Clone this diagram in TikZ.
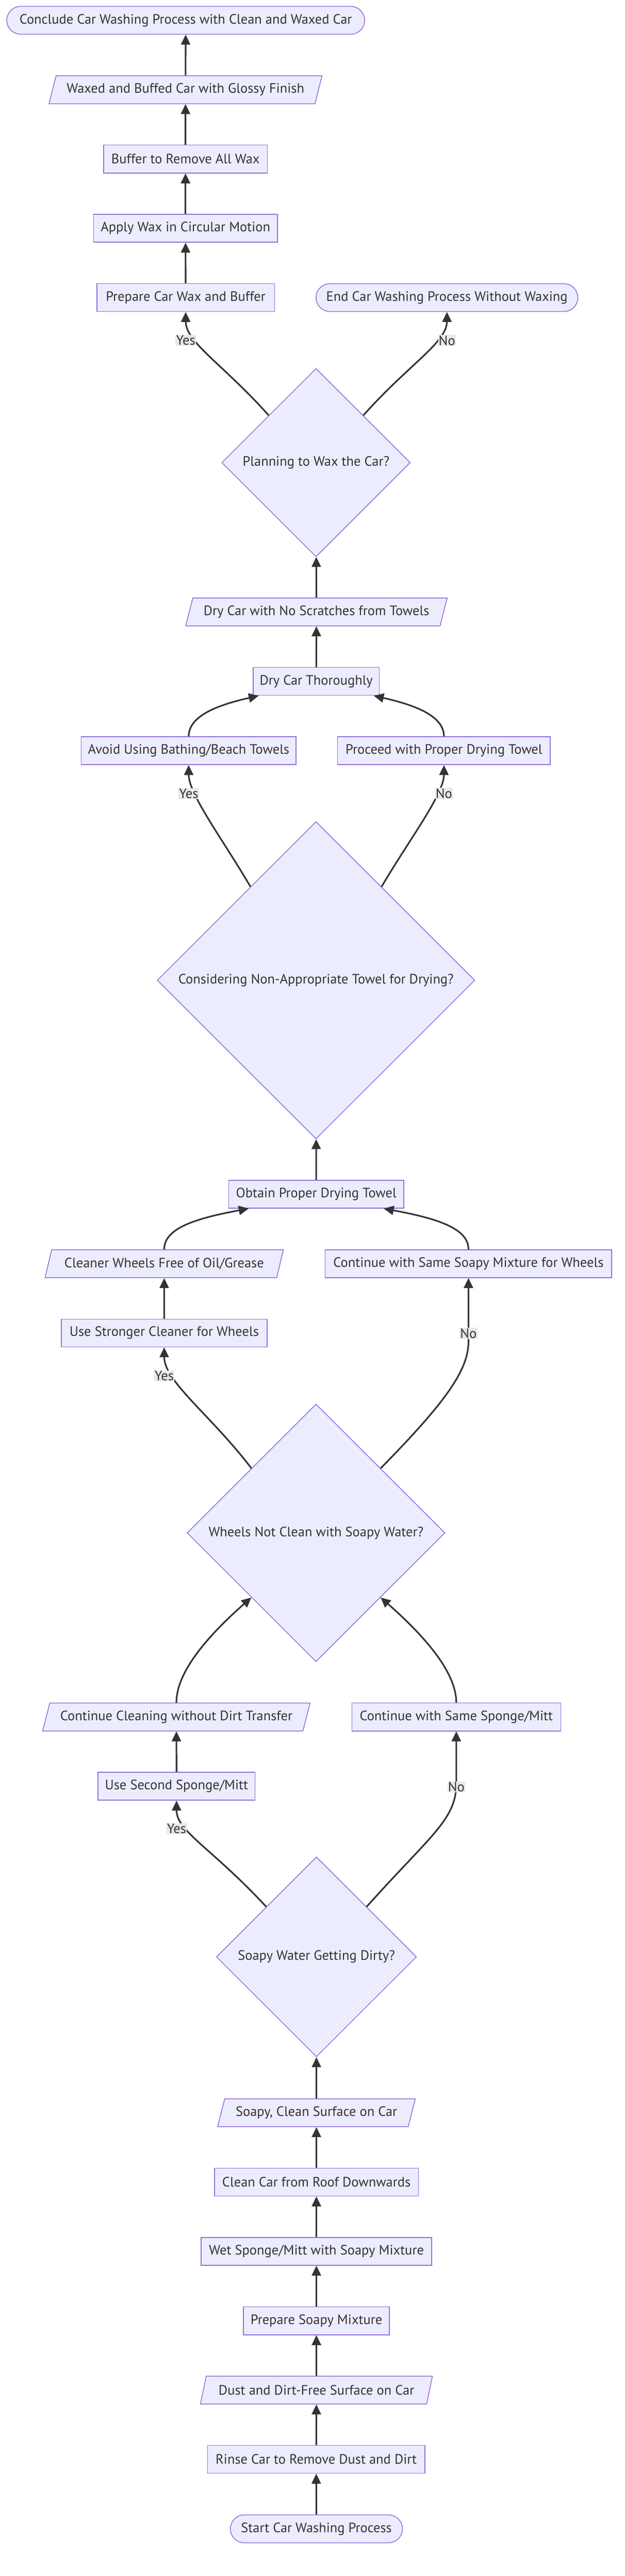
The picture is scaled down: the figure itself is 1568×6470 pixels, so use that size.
\documentclass[tikz,border=0pt]{standalone}
\usepackage{fontspec}
\setmainfont{PT Sans}
\usetikzlibrary{shapes.geometric,arrows.meta}
\definecolor{boxfill}{HTML}{ECECFF}
\definecolor{boxline}{HTML}{9370DB}
\definecolor{ink}{HTML}{333333}
\definecolor{tagfill}{HTML}{E8E8E8}

\begin{document}
\begin{tikzpicture}[x=0.02cm,y=-0.02cm,
	base/.style={draw=boxline,fill=boxfill,line width=0.04cm,text=ink,font=\fontsize{19.5}{23}\selectfont,minimum height=1.4cm,inner sep=0.05cm},
	proc/.style={base,rectangle,minimum width=#1*0.02cm},
	term/.style={base,rectangle,rounded corners=0.7cm,minimum width=#1*0.02cm},
	io/.style={base,trapezium,trapezium left angle=64,trapezium right angle=116,trapezium stretches body,minimum width=#1*0.02cm},
	choice/.style={base,diamond,minimum width=#1*0.02cm,minimum height=#1*0.02cm,inner sep=0pt},
	flow/.style={draw=ink,line width=0.08cm,-{Triangle[length=0.5cm,width=0.46cm]}},
	tag/.style={fill=tagfill,text=ink,font=\fontsize{19.5}{23}\selectfont,inner sep=0.03cm}]
				\useasboundingbox (0,0) rectangle (1568,6470);
				% waxing
				\node[term=898] (conclude) at (466,51) {Conclude Car Washing Process with Clean and Waxed Car};
				\node[io=685] (waxed) at (465.5,225.5) {Waxed and Buffed Car with Glossy Finish};
				\node[proc=411] (buffer) at (465.5,399.5) {Buffer to Remove All Wax};
				\node[proc=461] (apply) at (465.5,573.5) {Apply Wax in Circular Motion};
				\node[proc=446] (prepwax) at (466,747.5) {Prepare Car Wax and Buffer};
				\node[term=657] (nowax) at (1121.5,747.5) {End Car Washing Process Without Waxing};
				\node[choice=473] (wax) at (793,1162) {\makebox[0pt]{Planning to Wax the Car?}};
				% drying
				\node[io=656] (nosc) at (794,1537) {Dry Car with No Scratches from Towels};
				\node[proc=317] (drythor) at (793.5,1711.5) {Dry Car Thoroughly};
				\node[proc=539] (avoid) at (473.5,1885.5) {Avoid Using Bathing/Beach Towels};
				\node[proc=534] (proceed) at (1114,1885.5) {Proceed with Proper Drying Towel};
				\node[choice=797] (towel) at (793,2462) {\makebox[0pt]{Considering Non-Appropriate Towel for Drying?}};
				\node[proc=439] (obtain) at (793.5,2999.5) {Obtain Proper Drying Towel};
				% wheels
				\node[io=598] (cleanerw) at (412,3174) {Cleaner Wheels Free of Oil/Grease};
				\node[proc=719] (samemix) at (1175.5,3174) {Continue with Same Soapy Mixture for Wheels};
				\node[proc=516] (stronger) at (412,3348) {Use Stronger Cleaner for Wheels};
				\node[choice=647] (wheels) at (793,3850) {\makebox[0pt]{Wheels Not Clean with Soapy Water?}};
				% washing
				\node[io=671] (contclean) at (442.5,4312.5) {Continue Cleaning without Dirt Transfer};
				\node[proc=524] (samesponge) at (1145,4312.5) {Continue with Same Sponge/Mitt};
				\node[proc=394] (second) at (443,4486.5) {Use Second Sponge/Mitt};
				\node[choice=502] (dirty) at (794,4915) {\makebox[0pt]{Soapy Water Getting Dirty?}};
				\node[io=496] (soapsurf) at (794,5306.5) {Soapy, Clean Surface on Car};
				\node[proc=512] (roof) at (794,5480.5) {Clean Car from Roof Downwards};
				\node[proc=578] (wet) at (794,5654.5) {Wet Sponge/Mitt with Soapy Mixture};
				\node[proc=366] (prepsoap) at (794,5829) {Prepare Soapy Mixture};
				\node[io=582] (dust) at (794,6003) {Dust and Dirt-Free Surface on Car};
				\node[proc=545] (rinse) at (793.5,6177) {Rinse Car to Remove Dust and Dirt};
				\node[term=432] (start) at (794,6351.5) {Start Car Washing Process};

				\draw[flow] (start) -- (rinse);
				\draw[flow] (rinse) -- (dust);
				\draw[flow] (dust) -- (prepsoap);
				\draw[flow] (prepsoap) -- (wet);
				\draw[flow] (wet) -- (roof);
				\draw[flow] (roof) -- (soapsurf);
				\draw[flow] (soapsurf) -- (dirty);
				\draw[flow] (dirty.135) .. controls (530,4640) and (443,4600) .. (second.south);
				\draw[flow] (dirty.45) .. controls (1080,4610) and (1145,4570) .. (1145,4480) -- (samesponge.south);
				\draw[flow] (second) -- (contclean);
				\draw[flow] (contclean.north) .. controls (442.5,4200) and (520,4110) .. (wheels.225);
				\draw[flow] (samesponge.north) .. controls (1145,4200) and (1066,4110) .. (wheels.315);
				\draw[flow] (wheels.135) .. controls (530,3555) and (412,3470) .. (stronger.south);
				\draw[flow] (wheels.45) .. controls (1120,3520) and (1175.5,3440) .. (1175.5,3370) -- (samemix.south);
				\draw[flow] (stronger) -- (cleanerw);
				\draw[flow] (cleanerw.north) .. controls (412,3088) and (480,3062) .. (obtain.192);
				\draw[flow] (samemix.north) .. controls (1175.5,3088) and (1107,3062) .. (obtain.348);
				\draw[flow] (obtain) -- (towel);
				\draw[flow] (towel.125) .. controls (560,2110) and (473.5,1995) .. (avoid.south);
				\draw[flow] (towel.55) .. controls (1026,2110) and (1114,1995) .. (proceed.south);
				\draw[flow] (avoid.north) .. controls (473.5,1800) and (540,1772) .. (drythor.194);
				\draw[flow] (proceed.north) .. controls (1114,1800) and (1047,1772) .. (drythor.346);
				\draw[flow] (drythor) -- (nosc);
				\draw[flow] (nosc) -- (wax);
				\draw[flow] (wax.135) .. controls (560,915) and (466,860) .. (prepwax.south);
				\draw[flow] (wax.45) .. controls (1026,915) and (1121.5,860) .. (nowax.south);
				\draw[flow] (prepwax) -- (apply);
				\draw[flow] (apply) -- (buffer);
				\draw[flow] (buffer) -- (waxed);
				\draw[flow] (waxed) -- (conclude);

				\node[tag] (ywax) at (466,855) {Yes};
				\node[tag] (nwax) at (1121.5,855) {No};
				\node[tag] (ytowel) at (473.5,1993) {Yes};
				\node[tag] (ntowel) at (1114,1993) {No};
				\node[tag] (ywheels) at (412,3456) {Yes};
				\node[tag] (nwheels) at (1175.5,3349) {No};
				\node[tag] (ydirty) at (443,4593) {Yes};
				\node[tag] (ndirty) at (1145,4488) {No};
\end{tikzpicture}
\end{document}
